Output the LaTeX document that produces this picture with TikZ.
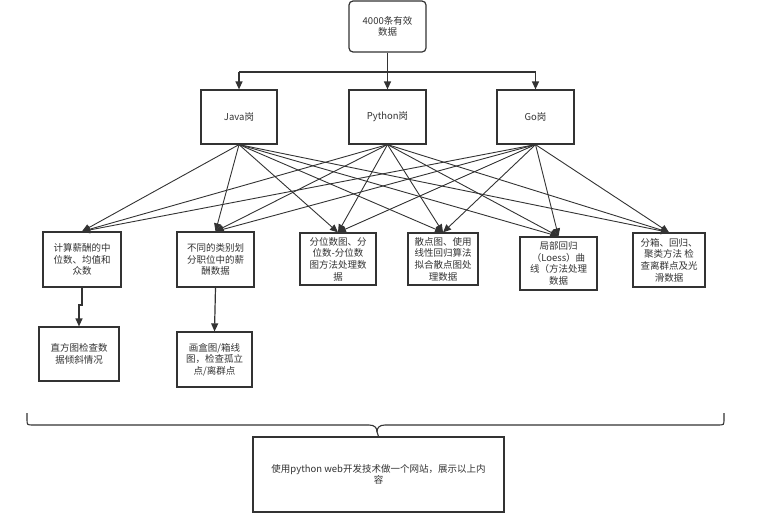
\documentclass[tikz,border=0pt]{standalone}
\usepackage{fontspec}
\setmainfont{Noto Sans CJK SC}
\usetikzlibrary{arrows.meta}
\definecolor{ink}{HTML}{333333}
\begin{document}
\begin{tikzpicture}[x=1pt,y=-1pt,
  box/.style={draw=ink,line width=1.2pt,fill=white,align=center,inner sep=1pt,
    text=ink,font=\fontsize{9.5}{11.6}\selectfont},
  rbox/.style={box,rounded corners=4pt},
  link/.style={draw=ink,line width=0.9pt,-{Triangle[length=8pt,width=7pt]}},
  feed/.style={draw=ink,line width=1.2pt}]
\useasboundingbox (0,0) rectangle (762,522);
% top
\node[rbox,minimum width=77pt,minimum height=51pt] (top) at (387.5,26.5) {4000条有效\\数据};
\node[box,minimum width=76pt,minimum height=54pt] (java) at (239,117) {Java岗};
\node[box,minimum width=77pt,minimum height=54pt] (py) at (387.5,117) {Python岗};
\node[box,minimum width=77pt,minimum height=54pt] (go) at (535.5,117) {Go岗};
\coordinate (split) at (387.5,72);
\coordinate (sj) at (239,72);
\coordinate (sg) at (535.5,72);
\draw[feed] (top.south) -- (split);
\draw[feed] (sj) -- (sg);
\draw[link,line width=1.2pt] (sj) -- (java.north);
\draw[link,line width=1.2pt] (split) -- (py.north);
\draw[link,line width=1.2pt] (sg) -- (go.north);
% second row
\node[box,minimum width=78pt,minimum height=55pt] (b1) at (82,259.5) {计算薪酬的中\\位数、均值和\\众数};
\node[box,minimum width=77pt,minimum height=55pt] (b2) at (215.5,259.5) {不同的类别划\\分职位中的薪\\酬数据};
\node[box,minimum width=76pt,minimum height=52pt] (b3) at (338,259) {分位数图、分\\位数-分位数\\图方法处理数\\据};
\node[box,minimum width=70pt,minimum height=52pt] (b4) at (443,259) {散点图、使用\\线性回归算法\\拟合散点图处\\理数据};
\node[box,minimum width=77pt,minimum height=53pt] (b5) at (558.5,263.5) {局部回归\\（Loess）曲\\线（方法处理\\数据};
\node[box,minimum width=72pt,minimum height=54pt] (b6) at (669,260) {分箱、回归、\\聚类方法 检\\查离群点及光\\滑数据};
\foreach \s in {java,py,go}{
  \foreach \t in {b1,b2,b3,b4,b5,b6}{
    \draw[link] (\s.south) -- (\t.north);
  }
}
% third row
\node[box,minimum width=80pt,minimum height=54pt] (b7) at (79,354) {直方图检查数\\据倾斜情况};
\node[box,minimum width=75pt,minimum height=55pt] (b8) at (214.5,359.5) {画盒图/箱线\\图，检查孤立\\点/离群点};
\coordinate (j1) at (82,305);
\coordinate (j2) at (79,305);
\draw[link,line width=1.2pt] (b1.south) -- (j1) -- (j2) -- (b7.north);
\draw[link,line width=1.2pt] (b2.south) -- (b8.north);
% brace
\node[box,minimum width=251pt,minimum height=75pt] (web) at (378.5,474.5) {使用python web开发技术做一个网站，展示以上内\\容};
\coordinate (bl) at (27,413);
\coordinate (br) at (724,413);
\draw[ink,line width=1.1pt] (bl) -- (27,419) .. controls (27,425) .. (33,425) -- (369,425)
  .. controls (375,425) and (377,428) .. (377,432) -- (web.north);
\draw[ink,line width=1.1pt] (br) -- (724,419) .. controls (724,425) .. (718,425) -- (385,425)
  .. controls (379,425) and (377,428) .. (377,432);
\end{tikzpicture}
\end{document}
